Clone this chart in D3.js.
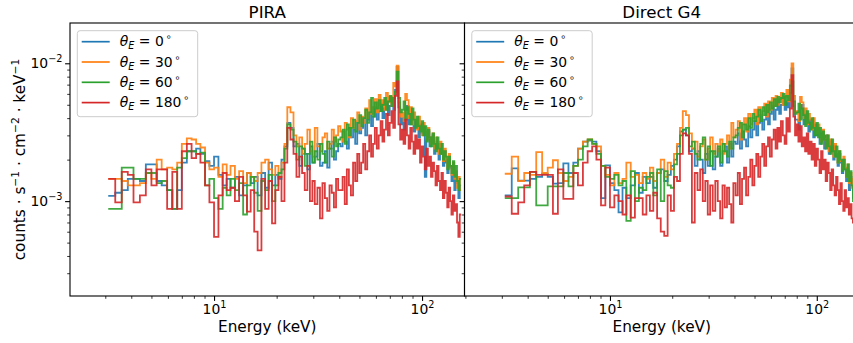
<!DOCTYPE html>
<html><head><meta charset="utf-8">
<script src="https://cdn.jsdelivr.net/npm/d3@7"></script>
<style>
body{margin:0;background:#fff}
svg{display:block;background:#fff}
text{font-family:"DejaVu Sans",sans-serif;fill:#000}
</style>
</head><body>
<svg id="chart" width="853" height="343"></svg>
<script>
// ---------------- data ----------------
// common energy bin edges (keV)
const energyEdges = [
  3.1, 3.35, 3.6, 3.85, 4.1, 4.4, 4.7, 5.0, 5.3, 5.6, 5.95, 6.3, 6.65, 7.0, 7.4, 7.8, 8.2, 8.6, 9.05, 9.5,
  10.0, 10.5, 11.0, 11.5, 12.0, 12.6, 13.2, 13.8, 14.4, 15.0, 15.6, 16.2, 16.9, 17.6, 18.3, 19.0, 19.7, 20.4, 21.1, 21.8,
  22.5, 23.3, 24.1, 24.9, 25.7, 26.5, 27.3, 28.1, 28.9, 29.7, 30.5, 31.4, 32.3, 33.2, 34.1, 35.0, 35.9, 36.8, 37.7, 38.6, 39.5,
  40.5, 41.5, 42.5, 43.5, 44.5, 45.5, 46.6, 47.7, 48.8, 49.9, 51.0, 52.1, 53.3, 54.5, 55.7, 56.9, 58.1, 59.3, 60.6, 61.9,
  63.2, 64.5, 65.8, 67.1, 68.5, 69.9, 71.3, 72.7, 74.1, 75.5, 77.0, 78.5, 80.0,
  81.5, 83.0, 84.6, 86.2, 87.8, 89.4, 91.0, 92.7, 94.4, 96.1, 97.8, 99.5, 101.3, 103.1, 104.9, 106.7, 108.5, 110.4, 112.3, 114.2,
  116.1, 118.0, 120.0, 122.0, 124.0, 126.0, 128.0, 130.1, 132.2, 134.3, 136.4, 138.5, 140.7, 142.9, 145.1, 147.3, 149.5, 151.8, 154.1
];

// rates in units of 1e-3 counts s^-1 cm^-2 keV^-1, one value per bin
const piraTheta0 = [
  1.09, 1.15, 1.2, 1.45, 1.45, 1.4, 1.85, 1.85, 1.4, 1.3, 1.2, 0.88, 1.2, 1.9, 2.3, 2.3, 2.4, 2.2, 1.95, 1.8,
  2.1, 1.55, 1.3, 1.45, 1.25, 1.5, 1.1, 1.3, 1.6, 1.35, 1.5, 1.1, 1.6, 1.25, 1.9, 1.3, 1.55, 1.45, 2.0, 2.5,
  3.7, 3.4, 2.5, 2.6, 1.8, 2.4, 2.2, 1.7, 2.5, 1.9, 2.1, 2.6, 1.8, 1.9, 2.3, 1.75, 2.4, 2.7, 2.0, 2.3, 2.6,
  2.5, 3.2, 2.7, 2.4, 3.4, 2.9, 3.3, 2.6, 3.7, 3.1, 3.4, 4.0, 3.0, 3.9, 4.4, 3.5, 4.1, 4.8, 3.9, 4.5,
  5.1, 4.0, 4.7, 5.3, 4.2, 4.9, 5.5, 4.6, 6.4, 9.4, 4.8, 3.6,
  4.0, 3.3, 4.6, 4.9, 3.6, 4.3, 3.9, 3.2, 3.8, 3.5, 2.9, 3.6, 3.1, 3.4, 1.5, 2.8, 3.2, 2.5, 2.9, 3.0,
  2.2, 2.7, 2.4, 2.0, 2.6, 2.2, 1.8, 2.3, 1.9, 1.6, 2.1, 1.75, 1.4, 1.8, 1.2, 1.55, 1.35, 1.05, 1.3
];
const piraTheta30 = [
  1.45, 1.45, 1.4, 1.3, 1.3, 1.35, 1.6, 1.45, 2.0, 1.7, 1.75, 1.7, 1.9, 2.6, 2.85, 2.8, 2.6, 2.45, 1.9, 1.7,
  1.75, 1.5, 1.85, 1.55, 1.8, 1.45, 1.65, 1.35, 1.6, 1.5, 1.4, 1.6, 1.9, 2.0, 1.7, 1.55, 1.8, 1.5, 1.9, 2.6,
  4.8, 4.4, 3.0, 2.5, 2.9, 2.2, 2.6, 3.3, 2.3, 2.1, 3.4, 2.5, 2.3, 2.9, 3.1, 2.4, 2.6, 3.3, 2.7, 3.0, 3.5,
  3.2, 2.7, 3.7, 3.3, 2.9, 4.0, 3.4, 3.8, 4.4, 3.3, 4.1, 3.7, 4.7, 4.0, 5.4, 4.3, 4.8, 5.5, 4.4, 5.9,
  5.0, 5.4, 4.6, 6.1, 5.2, 5.7, 4.9, 7.2, 6.8, 9.6, 5.2, 4.1,
  4.4, 3.8, 6.0, 5.4, 4.0, 4.8, 3.6, 4.4, 3.9, 3.3, 4.1, 3.5, 3.0, 3.7, 3.2, 2.8, 3.4, 2.9, 2.6, 3.1,
  2.4, 2.9, 2.6, 2.2, 2.7, 2.3, 1.95, 2.4, 2.0, 1.75, 2.2, 1.8, 1.55, 1.9, 1.45, 1.65, 1.25, 1.5, 1.2
];
const piraTheta60 = [
  0.88, 0.88, 1.75, 1.75, 1.45, 1.45, 1.6, 1.6, 1.35, 1.4, 1.2, 0.88, 1.75, 2.05, 2.3, 2.3, 2.2, 2.25, 1.3, 1.45,
  1.05, 0.88, 1.25, 1.1, 1.45, 1.2, 1.35, 0.8, 1.3, 1.5, 1.15, 0.85, 1.4, 1.2, 1.55, 1.0, 1.3, 1.6, 1.7, 2.4,
  3.6, 3.3, 2.7, 2.0, 2.5, 2.4, 1.8, 2.2, 2.7, 1.9, 2.3, 2.0, 2.6, 2.2, 1.9, 2.7, 2.4, 2.1, 2.9, 2.5, 2.8,
  2.9, 3.3, 2.6, 3.6, 3.0, 3.4, 3.9, 3.2, 3.7, 4.2, 3.5, 4.0, 4.6, 3.7, 4.4, 5.6, 4.1, 5.2, 4.7, 5.4,
  4.5, 5.0, 5.6, 4.6, 5.3, 5.8, 4.9, 5.6, 6.2, 8.7, 5.6, 4.4,
  4.6, 5.3, 3.9, 4.8, 4.3, 3.6, 4.7, 3.9, 3.4, 4.1, 3.5, 3.2, 3.8, 3.0, 3.5, 2.7, 3.3, 2.9, 2.5, 3.1,
  2.6, 2.3, 2.9, 2.4, 2.2, 2.6, 2.0, 2.3, 2.1, 1.7, 2.1, 1.8, 1.6, 1.95, 1.5, 1.8, 1.4, 1.2, 1.45
];
const piraTheta180 = [
  1.45, 0.98, 1.63, 1.55, 0.98, 1.1, 1.7, 1.3, 1.7, 1.7, 0.88, 1.63, 0.88, 2.3, 2.6, 2.05, 2.2, 1.9, 1.3, 0.98,
  0.55, 1.1, 1.6, 1.2, 1.25, 1.0, 1.5, 1.1, 0.84, 1.2, 0.6, 0.44, 1.45, 0.88, 1.4, 0.69, 1.2, 1.5, 1.0, 1.9,
  3.4, 2.8, 2.2, 1.5, 2.1, 1.6, 1.2, 1.8, 1.0, 1.4, 0.95, 1.25, 0.75, 1.35, 1.05, 0.85, 1.3, 1.15, 0.9, 1.45, 1.2,
  1.2, 1.5, 0.95, 1.7, 1.3, 1.1, 1.9, 1.4, 2.2, 1.6, 1.9, 2.6, 1.7, 2.3, 3.0, 2.1, 2.6, 3.4, 2.4, 3.0,
  3.8, 2.7, 3.3, 4.3, 3.0, 3.7, 4.5, 3.4, 5.8, 7.4, 3.6, 2.8,
  3.3, 2.6, 3.9, 3.0, 2.4, 3.4, 2.7, 2.2, 3.0, 2.4, 2.8, 1.9, 2.5, 2.1, 1.7, 2.4, 1.8, 2.1, 1.5, 1.9,
  1.65, 1.3, 1.8, 1.4, 1.2, 1.6, 1.05, 1.4, 1.15, 0.9, 1.25, 1.0, 0.8, 1.1, 0.85, 0.95, 0.7, 0.55, 0.8
];
const g4Theta0 = [
  1.1, 1.73, 1.41, 1.41, 1.45, 1.5, 1.58, 1.5, 1.34, 1.35, 1.88, 1.6, 1.9, 2.4, 2.7, 2.75, 2.7, 2.3, 1.05, 1.82,
  1.35, 1.2, 0.83, 1.25, 1.05, 1.3, 1.6, 1.15, 1.5, 1.35, 1.5, 1.25, 1.6, 1.7, 1.4, 1.55, 1.8, 2.0, 2.5, 3.2,
  3.3, 3.0, 2.3, 2.4, 1.8, 2.3, 2.0, 1.6, 2.2, 1.8, 2.3, 1.7, 2.1, 2.4, 1.8, 2.3, 2.5, 1.9, 2.6, 2.1, 2.7,
  2.6, 3.1, 2.4, 3.2, 2.8, 2.5, 3.5, 2.9, 3.3, 3.8, 3.0, 3.7, 4.2, 3.3, 3.9, 4.5, 3.6, 4.3, 4.9, 3.9,
  4.6, 5.2, 4.3, 5.0, 5.6, 4.6, 5.3, 4.8, 6.1, 9.2, 4.9, 3.9,
  3.9, 3.3, 4.7, 5.0, 3.6, 4.3, 3.8, 3.2, 3.9, 3.4, 2.9, 3.6, 3.0, 3.3, 2.6, 3.1, 2.8, 2.4, 3.0, 2.6,
  2.2, 2.7, 2.3, 2.0, 2.5, 2.1, 1.8, 2.2, 1.9, 1.6, 2.0, 1.7, 1.4, 1.7, 1.2, 1.5, 1.3, 1.05, 1.3
];
const g4Theta30 = [
  1.58, 2.1, 1.4, 1.6, 1.55, 2.27, 1.6, 1.75, 1.98, 1.6, 1.4, 1.5, 1.8, 2.4, 2.7, 2.8, 2.6, 2.5, 1.8, 1.55,
  1.3, 1.6, 1.35, 1.45, 1.9, 1.5, 1.55, 1.35, 1.6, 1.45, 1.75, 1.4, 1.6, 2.0, 1.5, 1.9, 1.7, 2.2, 2.6, 3.4,
  4.5, 4.2, 3.1, 2.4, 2.7, 2.1, 2.5, 2.8, 2.0, 2.4, 2.9, 2.2, 2.6, 2.3, 2.8, 2.2, 2.6, 3.0, 2.4, 3.7, 2.9,
  3.3, 3.8, 2.8, 3.6, 4.0, 3.2, 4.3, 3.6, 4.0, 4.6, 3.6, 4.8, 4.2, 4.5, 5.1, 4.1, 5.3, 4.6, 5.6, 4.9,
  5.8, 5.0, 5.5, 6.1, 5.0, 5.7, 6.4, 5.3, 7.6, 10.0, 5.8, 4.4,
  4.5, 3.8, 5.7, 5.2, 4.0, 4.7, 3.6, 4.3, 3.9, 3.3, 4.0, 3.4, 3.1, 3.6, 3.0, 2.7, 3.3, 2.8, 2.5, 3.0,
  2.3, 2.8, 2.5, 2.1, 2.6, 2.2, 1.9, 2.3, 1.95, 1.7, 2.1, 1.75, 1.5, 1.85, 1.35, 1.6, 1.25, 1.45, 1.2
];
const g4Theta60 = [
  1.05, 1.05, 1.26, 1.26, 1.63, 0.93, 0.93, 1.28, 1.28, 1.28, 1.6, 1.28, 1.8, 2.0, 2.5, 2.8, 2.6, 2.2, 1.8, 1.5,
  1.45, 1.55, 1.3, 1.4, 0.72, 1.65, 1.0, 1.25, 1.2, 1.5, 1.6, 1.1, 1.7, 1.0, 1.65, 1.3, 1.25, 1.85, 2.2, 3.0,
  3.3, 3.4, 2.5, 2.7, 2.2, 2.0, 2.6, 2.9, 2.0, 2.5, 1.8, 2.3, 2.1, 2.5, 1.9, 2.6, 2.3, 2.1, 2.7, 2.4, 2.9,
  3.0, 3.4, 3.7, 2.9, 3.6, 3.3, 4.0, 3.4, 4.3, 3.8, 4.1, 4.6, 3.8, 4.8, 4.2, 5.0, 4.4, 5.2, 4.7, 5.5,
  4.9, 5.7, 5.2, 5.6, 6.0, 5.0, 5.8, 5.4, 6.9, 7.4, 5.3, 4.3,
  4.4, 5.1, 3.9, 4.7, 4.2, 3.5, 4.5, 3.7, 3.3, 4.0, 3.4, 3.0, 3.7, 2.9, 3.4, 2.6, 3.2, 2.8, 2.4, 3.0,
  2.5, 2.2, 2.8, 2.3, 2.1, 2.5, 1.9, 2.3, 2.0, 1.65, 2.0, 1.7, 1.5, 1.85, 1.4, 1.65, 1.3, 1.0, 0.62
];
const g4Theta180 = [
  1.08, 0.81, 0.98, 1.3, 1.63, 1.55, 1.55, 1.55, 0.81, 1.7, 1.04, 1.04, 1.6, 1.3, 1.9, 2.3, 2.5, 2.0, 0.93, 1.75,
  0.9, 1.1, 1.0, 0.8, 1.1, 0.76, 1.05, 1.05, 0.8, 1.1, 0.85, 1.15, 0.75, 0.6, 0.56, 1.1, 0.85, 1.5, 1.4, 2.2,
  3.1, 3.0, 2.2, 0.7, 1.6, 1.2, 1.7, 1.0, 1.4, 0.8, 1.3, 0.85, 1.4, 1.0, 0.75, 1.3, 0.9, 1.25, 0.95, 0.7, 1.35,
  1.1, 1.6, 0.95, 1.45, 1.75, 1.1, 1.5, 2.0, 1.3, 1.8, 2.2, 1.5, 2.1, 2.6, 1.8, 2.5, 2.9, 2.1, 2.8, 3.3,
  2.4, 3.4, 2.7, 3.8, 3.0, 2.6, 4.0, 3.2, 4.7, 8.2, 4.1, 3.0,
  3.6, 2.7, 3.5, 2.5, 2.9, 2.3, 3.1, 2.2, 2.7, 2.0, 2.6, 1.8, 2.4, 2.0, 1.6, 2.3, 1.7, 2.0, 1.4, 1.9,
  1.6, 1.2, 1.7, 1.3, 1.1, 1.5, 1.2, 0.95, 1.35, 1.0, 0.85, 1.2, 0.9, 1.05, 0.8, 0.95, 0.75, 0.7, 0.85
];

const thetaValues = [0, 30, 60, 180];
const seriesColors = ["#1f77b4", "#ff7f0e", "#2ca02c", "#d62728"];
const panelTitles = ["PIRA", "Direct G4"];
const xMajorTicks = [10, 100];
const xMinorTicks = [2, 3, 4, 5, 6, 7, 8, 9, 20, 30, 40, 50, 60, 70, 80, 90, 200];
const yMajorTicks = [1e-3, 1e-2];
const yMinorTicks = [3e-4, 4e-4, 5e-4, 6e-4, 7e-4, 8e-4, 9e-4, 2e-3, 3e-3, 4e-3, 5e-3, 6e-3, 7e-3, 8e-3, 9e-3];
const rateUnit = 1e-3;

// ---------------- layout ----------------
const panels = [
  { title: panelTitles[0], x0: 70, x1: 464.5, xDomain: [2.03, 160], series: [piraTheta0, piraTheta30, piraTheta60, piraTheta180], yLabels: true },
  { title: panelTitles[1], x0: 464.5, x1: 859, xDomain: [1.98, 160], series: [g4Theta0, g4Theta30, g4Theta60, g4Theta180], yLabels: false }
];
const axTop = 23, axBottom = 296;
const svg = d3.select("#chart");
const y = d3.scaleLog().domain([2.05e-4, 1.96e-2]).range([axBottom, axTop]);

const fsTick = 13.9, fsSup = 9.7, fsLabel = 15.3, fsTitle = 16.7;

function powLabel(sel, d) {
  const e = Math.round(Math.log10(d));
  sel.append("tspan").text("10");
  sel.append("tspan").attr("dy", -6).attr("font-size", fsSup).text(e < 0 ? "\u2212" + (-e) : String(e));
}

panels.forEach((p, pi) => {
  const x = d3.scaleLog().domain(p.xDomain).range([p.x0, p.x1]);
  const clipId = "clip" + pi;
  svg.append("clipPath").attr("id", clipId).append("rect")
    .attr("x", p.x0).attr("y", axTop).attr("width", p.x1 - p.x0).attr("height", axBottom - axTop);

  const line = d3.line().x(d => x(d[0])).y(d => y(d[1])).curve(d3.curveStepAfter);
  const g = svg.append("g").attr("clip-path", `url(#${clipId})`);
  p.series.forEach((vals, k) => {
    const pts = energyEdges.map((e, i) => [e, vals[Math.min(i, vals.length - 1)] * rateUnit]);
    g.append("path").datum(pts).attr("d", line)
      .attr("fill", "none").attr("stroke", seriesColors[k])
      .attr("stroke-width", 1.8).attr("stroke-opacity", 0.9)
      .attr("stroke-linejoin", "miter");
  });

  // x axis minor
  const xMin = xMinorTicks.filter(v => v > p.xDomain[0] * 1.001 && v < p.xDomain[1]);
  svg.append("g").attr("transform", `translate(0,${axBottom})`)
    .call(d3.axisBottom(x).tickValues(xMin).tickSize(2.8).tickSizeOuter(0).tickFormat(() => ""))
    .call(a => { a.select(".domain").remove(); a.attr("font-family", null).attr("font-size", null).attr("color", "#000");
                 a.selectAll("line").attr("stroke-width", 0.8); });
  // x axis major
  svg.append("g").attr("transform", `translate(0,${axBottom})`)
    .call(d3.axisBottom(x).tickValues(xMajorTicks).tickSize(4.9).tickSizeOuter(0).tickFormat(() => ""))
    .call(a => {
      a.select(".domain").remove(); a.attr("font-family", null).attr("font-size", null).attr("color", "#000");
      a.selectAll("line").attr("stroke-width", 1.1);
      a.selectAll(".tick text").each(function(d) {
        const t = d3.select(this).text(null).attr("y", 17.5).attr("dy", null)
          .attr("font-size", fsTick).attr("text-anchor", "middle").attr("fill", "#000");
        powLabel(t, d);
      });
    });

  // y axis (left spine of each panel)
  svg.append("g").attr("transform", `translate(${p.x0},0)`)
    .call(d3.axisLeft(y).tickValues(yMinorTicks).tickSize(2.8).tickSizeOuter(0).tickFormat(() => ""))
    .call(a => { a.select(".domain").remove(); a.attr("font-family", null).attr("font-size", null).attr("color", "#000");
                 a.selectAll("line").attr("stroke-width", 0.8); });
  svg.append("g").attr("transform", `translate(${p.x0},0)`)
    .call(d3.axisLeft(y).tickValues(yMajorTicks).tickSize(4.9).tickSizeOuter(0).tickFormat(() => ""))
    .call(a => {
      a.select(".domain").remove(); a.attr("font-family", null).attr("font-size", null).attr("color", "#000");
      a.selectAll("line").attr("stroke-width", 1.1);
      a.selectAll(".tick text").each(function(d) {
        const t = d3.select(this).text(null);
        if (!p.yLabels) { t.remove(); return; }
        t.attr("x", -7.5).attr("dy", null).attr("y", 4.5).attr("font-size", fsTick)
          .attr("text-anchor", "end").attr("fill", "#000");
        powLabel(t, d);
      });
    });

  // spines
  svg.append("rect").attr("x", p.x0).attr("y", axTop).attr("width", p.x1 - p.x0).attr("height", axBottom - axTop)
    .attr("fill", "none").attr("stroke", "#000").attr("stroke-width", 1.1);

  const cx = (p.x0 + p.x1) / 2;
  svg.append("text").attr("x", cx).attr("y", 18.3).attr("text-anchor", "middle")
    .attr("font-size", fsTitle).text(p.title);
  svg.append("text").attr("x", cx).attr("y", 332).attr("text-anchor", "middle")
    .attr("font-size", fsLabel).text("Energy (keV)");

  // legend
  const lg = svg.append("g").attr("transform", `translate(${p.x0 + 7.3},30.7)`);
  lg.append("rect").attr("x", 0).attr("y", 0).attr("width", 120.4).attr("height", 86)
    .attr("rx", 2.8).attr("fill", "#fff").attr("fill-opacity", 0.8)
    .attr("stroke", "#cccccc").attr("stroke-width", 1);
  thetaValues.forEach((th, k) => {
    const ry = 11 + k * 20.3;
    lg.append("line").attr("x1", 4.4).attr("x2", 32.4).attr("y1", ry).attr("y2", ry)
      .attr("stroke", seriesColors[k]).attr("stroke-width", 1.7);
    const t = lg.append("text").attr("x", 42.5).attr("y", ry + 4.6).attr("font-size", fsTick);
    t.append("tspan").attr("font-style", "italic").text("\u03b8");
    t.append("tspan").attr("font-style", "italic").attr("font-size", fsSup).attr("dy", 3).text("E");
    t.append("tspan").attr("dy", -3).text(" = " + th);
    t.append("tspan").attr("font-size", fsSup).attr("dy", -6).text("\u2009\u2218");
  });
});

// y label
const yl = svg.append("text").attr("transform", `translate(25,159.5) rotate(-90)`)
  .attr("text-anchor", "middle").attr("font-size", fsLabel);
const parts = [["counts \u00b7 s", "\u22121"], [" \u00b7 cm", "\u22122"], [" \u00b7 keV", "\u22121"]];
parts.forEach(([base, sup], i) => {
  yl.append("tspan").attr("dy", i ? 6.5 : 0).text(base);
  yl.append("tspan").attr("dy", -6.5).attr("font-size", 10.7).text(sup);
});
</script>
</body></html>
